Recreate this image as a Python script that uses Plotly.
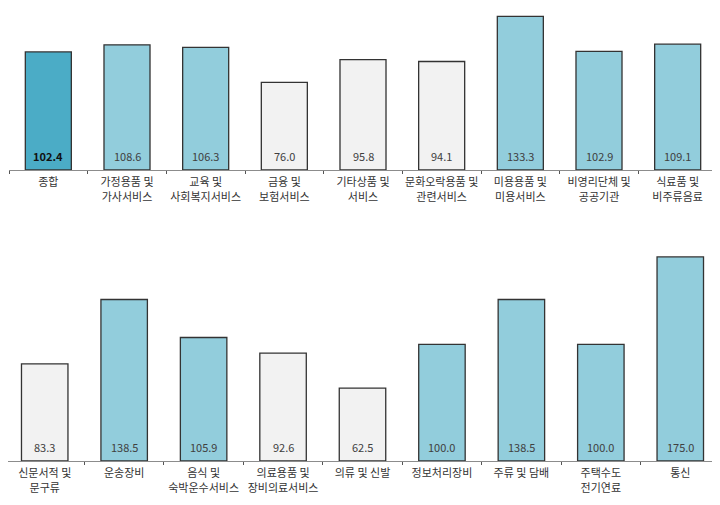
import plotly.graph_objects as go

top_labels = ["종합", "가정용품 및<br>가사서비스", "교육 및<br>사회복지서비스", "금융 및<br>보험서비스",
              "기타상품 및<br>서비스", "문화오락용품 및<br>관련서비스", "미용용품 및<br>미용서비스",
              "비영리단체 및<br>공공기관", "식료품 및<br>비주류음료"]
top_values = [102.4, 108.6, 106.3, 76.0, 95.8, 94.1, 133.3, 102.9, 109.1]

bottom_labels = ["신문서적 및<br>문구류", "운송장비", "음식 및<br>숙박운수서비스", "의료용품 및<br>장비의료서비스",
                 "의류 및 신발", "정보처리장비", "주류 및 담배", "주택수도<br>전기연료", "통신"]
bottom_values = [83.3, 138.5, 105.9, 92.6, 62.5, 100.0, 138.5, 100.0, 175.0]

C_TOTAL = "#4BACC6"
C_UP = "#92CDDC"
C_DOWN = "#F2F2F2"
FONT = "Noto Sans CJK KR"


def colors(vals, first_total=False):
    out = []
    for i, v in enumerate(vals):
        if first_total and i == 0:
            out.append(C_TOTAL)
        elif v >= 100:
            out.append(C_UP)
        else:
            out.append(C_DOWN)
    return out


fig = go.Figure()
fig.add_trace(go.Bar(
    x=top_labels, y=top_values, xaxis="x", yaxis="y",
    marker=dict(color=colors(top_values, True), line=dict(color="#333333", width=1.3)),
    width=0.585, hoverinfo="skip",
))
fig.add_trace(go.Bar(
    x=bottom_labels, y=bottom_values, xaxis="x2", yaxis="y2",
    marker=dict(color=colors(bottom_values), line=dict(color="#333333", width=1.3)),
    width=0.585, hoverinfo="skip",
))

annotations = []
for i, (lab, v) in enumerate(zip(top_labels, top_values)):
    bold = i == 0
    annotations.append(dict(
        x=lab, y=0, xref="x", yref="y", yshift=14, yanchor="middle", showarrow=False,
        text=("<b>%.1f</b>" % v) if bold else ("%.1f" % v),
        font=dict(size=11, color="#111111" if bold else "#404040", family=FONT),
    ))
for lab, v in zip(bottom_labels, bottom_values):
    annotations.append(dict(
        x=lab, y=0, xref="x2", yref="y2", yshift=14, yanchor="middle", showarrow=False,
        text="%.1f" % v, font=dict(size=11, color="#404040", family=FONT),
    ))

# page has an 8px body margin; figure placed at (8, 8)
W, H = 712, 497
axis_common = dict(
    type="category", showline=True, linecolor="#8c8c8c", linewidth=1.2,
    ticks="outside", tickson="boundaries", ticklen=3, tickcolor="#555555", tickwidth=1,
    showgrid=False, zeroline=False, fixedrange=True, tickangle=0, automargin=False,
    ticklabelstandoff=2,
    tickfont=dict(size=11, color="#333333", family=FONT),
)
fig.update_layout(
    width=W, height=H,
    margin=dict(l=0, r=0, t=0, b=0, autoexpand=False),
    paper_bgcolor="white", plot_bgcolor="white",
    showlegend=False,
    annotations=annotations,
    xaxis=dict(domain=[1 / W, 709 / W], anchor="y", range=[-0.5, 8.5], **axis_common),
    yaxis=dict(domain=[(H - 162) / H, 1.0], range=[0, 140.5], visible=False, fixedrange=True),
    xaxis2=dict(domain=[0, 1], anchor="y2", range=[-0.5 + 3 / 79.44, 8.5], **axis_common),
    yaxis2=dict(domain=[(H - 453) / H, (H - 243) / H], range=[0, 180.1], visible=False, fixedrange=True),
)

fig.write_html("out.html")
